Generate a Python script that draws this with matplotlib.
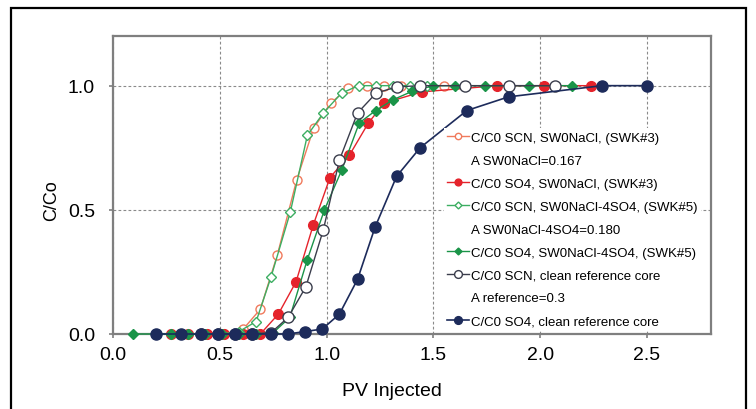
import matplotlib
matplotlib.use("Agg")
import matplotlib.pyplot as plt
from matplotlib.lines import Line2D
from matplotlib.patches import Rectangle

plt.rcParams['font.family'] = ['Liberation Sans', 'DejaVu Sans']

# ---- data ----
x_scn_nacl = [0.27, 0.35, 0.44, 0.52, 0.61, 0.69, 0.77, 0.86, 0.94, 1.02, 1.10, 1.19, 1.27, 1.35, 1.44, 1.55]
y_scn_nacl = [0, 0, 0, 0, 0.02, 0.10, 0.32, 0.62, 0.83, 0.93, 0.99, 1.0, 1.0, 1.0, 1.0, 1.0]

x_so4_nacl = [0.27, 0.35, 0.44, 0.52, 0.61, 0.69, 0.774, 0.857, 0.938, 1.016, 1.107, 1.196, 1.27, 1.446, 1.80, 2.02, 2.24]
y_so4_nacl = [0, 0, 0, 0, 0, 0.0, 0.08, 0.21, 0.44, 0.63, 0.72, 0.85, 0.93, 0.975, 1.0, 1.0, 1.0]

x_scn_4so4 = [0.27, 0.35, 0.43, 0.51, 0.59, 0.67, 0.74, 0.83, 0.91, 0.985, 1.07, 1.15, 1.23, 1.31, 1.39, 1.47]
y_scn_4so4 = [0, 0, 0, 0, 0.01, 0.05, 0.23, 0.49, 0.80, 0.89, 0.97, 1.0, 1.0, 1.0, 1.0, 1.0]

x_so4_4so4 = [0.093, 0.27, 0.35, 0.43, 0.51, 0.59, 0.67, 0.75, 0.828, 0.91, 0.99, 1.071, 1.153, 1.23, 1.313, 1.40, 1.50, 1.60, 1.74, 1.95, 2.15]
y_so4_4so4 = [0, 0, 0, 0, 0, 0, 0, 0.005, 0.067, 0.30, 0.50, 0.66, 0.85, 0.90, 0.944, 0.977, 1.0, 1.0, 1.0, 1.0, 1.0]

x_scn_ref = [0.41, 0.49, 0.57, 0.65, 0.74, 0.82, 0.903, 0.985, 1.06, 1.145, 1.232, 1.328, 1.438, 1.65, 1.852, 2.07]
y_scn_ref = [0, 0, 0, 0, 0.005, 0.067, 0.19, 0.42, 0.70, 0.89, 0.97, 0.995, 1.0, 1.0, 1.0, 1.0]

x_so4_ref = [0.20, 0.32, 0.41, 0.49, 0.57, 0.65, 0.74, 0.82, 0.90, 0.98, 1.06, 1.145, 1.227, 1.328, 1.438, 1.657, 1.852, 2.29, 2.50]
y_so4_ref = [0, 0, 0, 0, 0, 0, 0, 0, 0.01, 0.02, 0.08, 0.22, 0.43, 0.635, 0.75, 0.90, 0.955, 1.0, 1.0]

labels = ["C/C0 SCN, SW0NaCl, (SWK#3)",
          "A SW0NaCl=0.167",
          "C/C0 SO4, SW0NaCl, (SWK#3)",
          "C/C0 SCN, SW0NaCl-4SO4, (SWK#5)",
          "A SW0NaCl-4SO4=0.180",
          "C/C0 SO4, SW0NaCl-4SO4, (SWK#5)",
          "C/C0 SCN, clean reference core",
          "A reference=0.3",
          "C/C0 SO4, clean reference core"]

xticks = [0.0, 0.5, 1.0, 1.5, 2.0, 2.5]
yticks = [0.0, 0.5, 1.0]

# ---- figure ----
fig = plt.figure(figsize=(7.56, 4.10), dpi=100)
ax = fig.add_axes([113/756, 75/410, 598/756, 298/410])

c_orange = '#F07A5C'
c_red = '#E5232B'
c_lgreen = '#3DAE62'
c_green = '#1A9448'
c_dark = '#3A3D4C'
c_navy = '#1D2B5B'

hA, = ax.plot(x_scn_nacl, y_scn_nacl, '-o', color=c_orange, lw=1.0, ms=6.5,
              mfc='white', mec=c_orange, mew=1.0, clip_on=False, zorder=3)
hB, = ax.plot(x_so4_nacl, y_so4_nacl, '-o', color=c_red, lw=1.0, ms=7,
              mfc=c_red, mec=c_red, clip_on=False, zorder=3)
hC, = ax.plot(x_scn_4so4, y_scn_4so4, '-D', color=c_lgreen, lw=1.0, ms=5,
              mfc='white', mec=c_lgreen, mew=1.0, clip_on=False, zorder=3)
hD, = ax.plot(x_so4_4so4, y_so4_4so4, '-D', color=c_green, lw=1.0, ms=5,
              mfc=c_green, mec=c_green, clip_on=False, zorder=3)
hE, = ax.plot(x_scn_ref, y_scn_ref, '-o', color=c_dark, lw=1.0, ms=8,
              mfc='white', mec=c_dark, mew=1.0, clip_on=False, zorder=3)
hF, = ax.plot(x_so4_ref, y_so4_ref, '-o', color=c_navy, lw=1.2, ms=8,
              mfc=c_navy, mec=c_navy, clip_on=False, zorder=3)

blank = Line2D([], [], linestyle='none', marker=None)
handles = [hA, blank, hB, hC, blank, hD, hE, blank, hF]

ax.set_xlim(0, 2.8)
ax.set_ylim(0, 1.2)
ax.set_xticks(xticks)
ax.set_xticklabels([f"{v:.1f}" for v in xticks])
ax.set_yticks(yticks)
ax.set_yticklabels([f"{v:.1f}" for v in yticks])
ax.tick_params(axis='both', labelsize=14, color='#7f7f7f', length=3, width=1.2)
ax.tick_params(axis='y', pad=10)
ax.tick_params(axis='x', pad=6)
ax.grid(True, color='#8a8a8a', lw=0.8, linestyle=(0, (2.5, 2)))
ax.set_axisbelow(True)
for s in ax.spines.values():
    s.set_color('#7f7f7f')
    s.set_linewidth(1.6)

ax.set_xlabel("PV Injected", fontsize=14)
ax.set_ylabel("C/Co", fontsize=13)
ax.xaxis.set_label_coords(0.467, -0.161)
ax.yaxis.set_label_coords(-0.089, 0.45)

leg = ax.legend(handles, labels, loc='upper left', bbox_to_anchor=(0.553, 0.69),
                fontsize=9.5, frameon=True, facecolor='white', edgecolor='none',
                framealpha=1, fancybox=False, borderpad=0.25, borderaxespad=0,
                handlelength=1.7, handletextpad=0.15, labelspacing=0.81,
                markerscale=0.7)
leg.set_zorder(5)

fig.add_artist(Rectangle((11/756, -0.05), (746-11)/756, 1 - 9/410 + 0.05,
                         transform=fig.transFigure, fill=False,
                         edgecolor='black', lw=1.6))

fig.savefig("out.png", dpi=100)
